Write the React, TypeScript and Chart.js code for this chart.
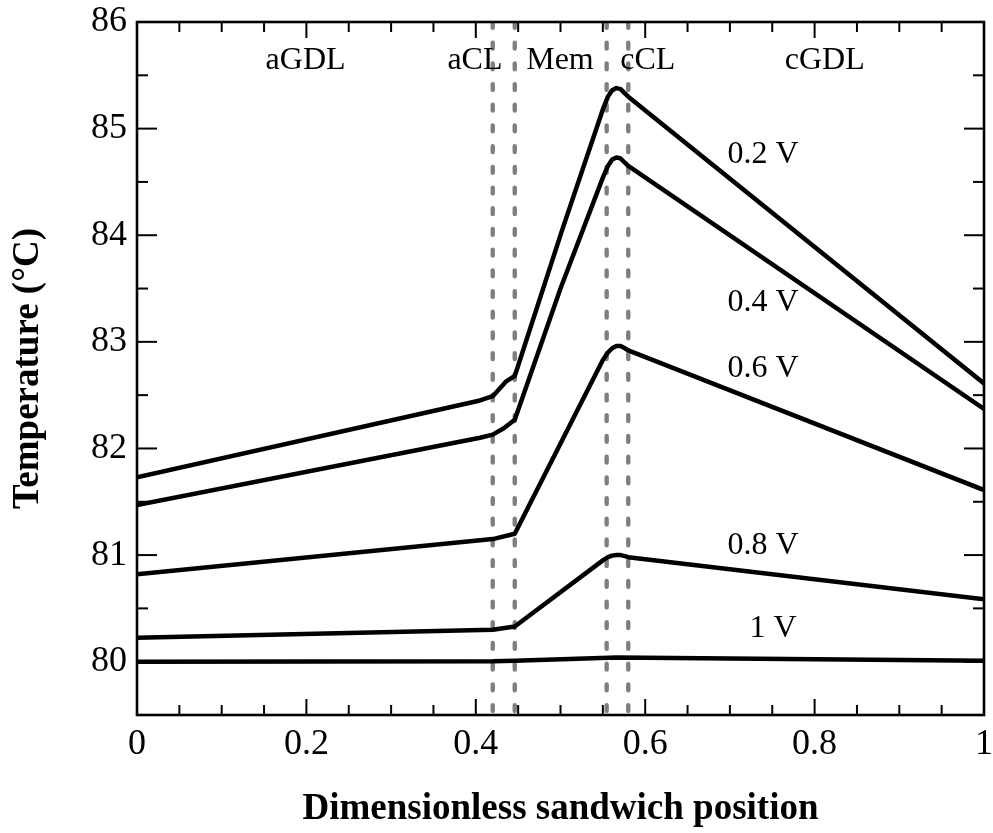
import { useEffect, useRef } from "react";
import { Chart, registerables } from "chart.js";

Chart.register(...registerables);

// Axis ticks
const xTicks = [0, 0.2, 0.4, 0.6, 0.8, 1];
const xTickLabels = ["0", "0.2", "0.4", "0.6", "0.8", "1"];
const yTicks = [80, 81, 82, 83, 84, 85, 86];
const yTickLabels = ["80", "81", "82", "83", "84", "85", "86"];

// Temperature profiles across the MEA sandwich at each cell voltage
const seriesNames = ["0.2 V", "0.4 V", "0.6 V", "0.8 V", "1 V"];

const pos02 = [0, 0.405, 0.42, 0.428, 0.436, 0.446, 0.502, 0.55, 0.556, 0.561, 0.566, 0.571, 0.576, 0.58, 1];
const temp02 = [81.73, 82.45, 82.49, 82.56, 82.63, 82.68, 84.05, 85.18, 85.3, 85.36, 85.38, 85.37, 85.33, 85.3, 82.61];

const pos04 = [0, 0.405, 0.42, 0.433, 0.446, 0.5, 0.55, 0.556, 0.561, 0.566, 0.571, 0.576, 0.58, 1];
const temp04 = [81.47, 82.1, 82.13, 82.19, 82.27, 83.5, 84.54, 84.65, 84.71, 84.73, 84.72, 84.68, 84.65, 82.37];

const pos06 = [0, 0.42, 0.446, 0.55, 0.556, 0.561, 0.566, 0.571, 0.576, 0.58, 1];
const temp06 = [80.82, 81.15, 81.2, 82.83, 82.9, 82.94, 82.96, 82.96, 82.94, 82.92, 81.61];

const pos08 = [0, 0.42, 0.446, 0.55, 0.556, 0.561, 0.566, 0.571, 0.576, 0.58, 1];
const temp08 = [80.225, 80.3, 80.33, 80.95, 80.98, 80.995, 81.0, 81.0, 80.99, 80.98, 80.585];

const pos10 = [0, 0.42, 0.446, 0.566, 0.7, 1];
const temp10 = [80.0, 80.005, 80.01, 80.04, 80.03, 80.01];

// Layer boundaries (aGDL|aCL|Mem|cCL|cGDL)
const boundaries = [0.42, 0.446, 0.5545, 0.58];

// Layer names and where they sit
const layerNames = ["aGDL", "aCL", "Mem", "cCL", "cGDL"];
const layerX = [0.199, 0.399, 0.4994, 0.603, 0.812];
const layerY = 85.64;

// Voltage tags beside each curve
const tagX = [0.739, 0.739, 0.739, 0.739, 0.751];
const tagY = [84.76, 83.37, 82.75, 81.09, 80.31];

const X_MIN = 0;
const X_MAX = 1;
const Y_MIN = 79.5;
const Y_MAX = 86;

const SERIF = "'Liberation Serif', 'Times New Roman', Times, serif";

const zip = (xs: number[], ys: number[]) => xs.map((x, i) => ({ x, y: ys[i] }));

const frameAndText = {
  id: "frameAndText",
  afterDatasetsDraw(chart: any) {
    const { ctx, chartArea: a, scales } = chart;
    const xs = scales.x;
    const ys = scales.y;
    ctx.save();
    ctx.strokeStyle = "#000";
    ctx.lineCap = "butt";
    ctx.lineWidth = 2;

    const seg = (x1: number, y1: number, x2: number, y2: number) => {
      ctx.beginPath();
      ctx.moveTo(x1, y1);
      ctx.lineTo(x2, y2);
      ctx.stroke();
    };

    // inward ticks on all four sides
    const xCount = Math.round((X_MAX - X_MIN) / 0.05);
    for (let i = 0; i <= xCount; i++) {
      const v = X_MIN + i * 0.05;
      const px = xs.getPixelForValue(v);
      const major = xTicks.some((t) => Math.abs(t - v) < 1e-6);
      const len = major ? 16 : 10;
      seg(px, a.bottom, px, a.bottom - len);
      seg(px, a.top, px, a.top + len);
    }
    const yCount = Math.round((Y_MAX - 80) / 0.5);
    for (let i = 0; i <= yCount; i++) {
      const v = 80 + i * 0.5;
      const py = ys.getPixelForValue(v);
      const major = yTicks.some((t) => Math.abs(t - v) < 1e-6);
      const len = major ? 20 : 11;
      seg(a.left, py, a.left + len, py);
      seg(a.right, py, a.right - len, py);
    }

    ctx.lineWidth = 2.6;
    ctx.strokeRect(a.left, a.top, a.right - a.left, a.bottom - a.top);

    ctx.fillStyle = "#000";
    ctx.textAlign = "center";
    ctx.textBaseline = "middle";
    ctx.font = `32px ${SERIF}`;
    layerNames.forEach((t, i) => {
      ctx.fillText(t, xs.getPixelForValue(layerX[i]), ys.getPixelForValue(layerY));
    });
    seriesNames.forEach((t, i) => {
      ctx.fillText(t, xs.getPixelForValue(tagX[i]), ys.getPixelForValue(tagY[i]));
    });
    ctx.restore();
  },
};

export default function App() {
  const ref = useRef<HTMLCanvasElement | null>(null);

  useEffect(() => {
    if (!ref.current) return;
    Chart.defaults.font.family = SERIF;
    Chart.defaults.color = "#000";

    const curveData = [
      zip(pos02, temp02),
      zip(pos04, temp04),
      zip(pos06, temp06),
      zip(pos08, temp08),
      zip(pos10, temp10),
    ];

    const curves = curveData.map((d, i) => ({
      label: seriesNames[i],
      data: d,
      borderColor: "#000",
      borderWidth: 4.5,
      pointRadius: 0,
      fill: false,
      tension: 0,
      borderJoinStyle: "round" as const,
      borderCapStyle: "round" as const,
      order: 0,
    }));

    const dividers = boundaries.map((b) => ({
      label: "boundary",
      data: [
        { x: b, y: Y_MAX },
        { x: b, y: Y_MIN },
      ],
      borderColor: "#7f7f7f",
      borderWidth: 4.4,
      borderDash: [5.8, 14.9],
      borderCapStyle: "round" as const,
      pointRadius: 0,
      fill: false,
      order: 1,
    }));

    const chart = new Chart(ref.current, {
      type: "line",
      data: { datasets: [...curves, ...dividers] as any },
      options: {
        responsive: false,
        animation: false,
        devicePixelRatio: 1,
        layout: { padding: { top: 22, right: 9, left: 0, bottom: 0 } },
        plugins: {
          legend: { display: false },
          tooltip: { enabled: false },
        },
        scales: {
          x: {
            type: "linear",
            min: X_MIN,
            max: X_MAX,
            grid: { display: false, drawTicks: false },
            border: { display: false },
            ticks: {
              autoSkip: false,
              maxRotation: 0,
              padding: 8,
              color: "#000",
              font: { size: 36, family: SERIF },
              callback: (v: any) => {
                const i = xTicks.findIndex((t) => Math.abs(t - Number(v)) < 1e-9);
                return i >= 0 ? xTickLabels[i] : "";
              },
            },
            afterBuildTicks: (s: any) => {
              s.ticks = xTicks.map((value) => ({ value }));
            },
            afterFit: (s: any) => {
              s.height = 118;
              s.paddingLeft = 0;
              s.paddingRight = 0;
            },
            title: {
              display: true,
              text: "Dimensionless sandwich position",
              color: "#000",
              font: { size: 37, weight: "bold", family: SERIF },
              padding: { top: 0, bottom: 1 },
            },
          },
          y: {
            type: "linear",
            min: Y_MIN,
            max: Y_MAX,
            grid: { display: false, drawTicks: false },
            border: { display: false },
            ticks: {
              padding: 10,
              color: "#000",
              font: { size: 36, family: SERIF },
              callback: (v: any) => {
                const i = yTicks.findIndex((t) => Math.abs(t - Number(v)) < 1e-9);
                return i >= 0 ? yTickLabels[i] : "";
              },
            },
            afterBuildTicks: (s: any) => {
              s.ticks = yTicks.map((value) => ({ value }));
            },
            afterFit: (s: any) => {
              s.width = 137;
              s.paddingTop = 0;
              s.paddingBottom = 0;
            },
            title: {
              display: true,
              text: "Temperature (°C)",
              color: "#000",
              font: { size: 37, weight: "bold", family: SERIF },
              padding: { top: 6, bottom: 0 },
            },
          },
        },
      },
      plugins: [frameAndText],
    });

    return () => chart.destroy();
  }, []);

  return (
    <div style={{ position: "fixed", left: 0, top: 0, width: 993, height: 833, background: "#fff" }}>
      <canvas ref={ref} width={993} height={833} style={{ display: "block", width: 993, height: 833 }} />
    </div>
  );
}
